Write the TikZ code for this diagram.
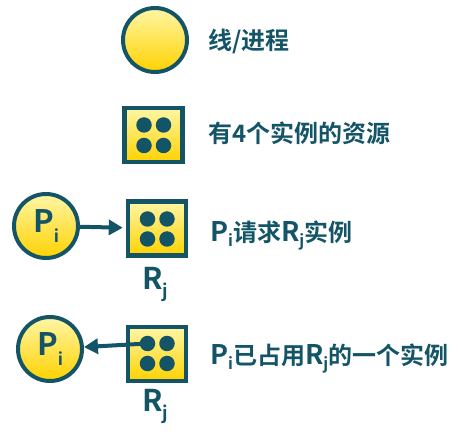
\documentclass[tikz,border=0pt]{standalone}
\usepackage{fontspec}
\setmainfont{Noto Sans CJK SC}[BoldFont={Noto Sans CJK SC Bold}]
\usetikzlibrary{arrows.meta}
\definecolor{tealc}{HTML}{135567}
\definecolor{ytop}{HTML}{FFF6A6}
\definecolor{ybot}{HTML}{FFD200}
\newcommand{\bigL}[1]{{\fontsize{27}{27}\selectfont #1}}
\newcommand{\subtx}[3]{\raisebox{#1}{\fontsize{#2}{#2}\selectfont #3}}
\tikzset{
  proc/.style={circle, draw=tealc, line width=4pt, top color=ytop, bottom color=ybot, minimum size=64pt, inner sep=0pt, text=tealc, font=\bfseries\fontsize{31}{31}\selectfont},
  res/.style={rectangle, draw=tealc, line width=4.5pt, top color=ytop, bottom color=ybot, minimum width=58pt, minimum height=54pt, inner sep=0pt},
  rdot/.style={circle, fill=tealc, minimum size=15.5pt, inner sep=0pt},
  lbl/.style={anchor=base west, text=tealc, inner sep=0pt, font=\bfseries\fontsize{24}{24}\selectfont},
  rlbl/.style={anchor=base, text=tealc, inner sep=0pt, font=\bfseries\fontsize{30}{30}\selectfont},
  arr/.style={draw=tealc, line width=4pt, -{Triangle[length=14pt,width=15pt]}},
}
\begin{document}
\begin{tikzpicture}[x=1pt,y=-1pt]
\useasboundingbox (0,0) rectangle (459,444);
% row 1
\node[proc] (P1) at (155,40) {};
\node[lbl] (T1) at (208,50) {线/进程};
% row 2
\node[res] (R2) at (153.5,135) {};
\node[rdot] (d2a) at (144,125) {};
\node[rdot] (d2b) at (163.5,125) {};
\node[rdot] (d2c) at (144,145.5) {};
\node[rdot] (d2d) at (163.5,145.5) {};
\node[lbl] (T2) at (208,143) {有4个实例的资源};
% row 3
\node[proc] (P3) at (46,226) {P\subtx{-0.3em}{17}{i}};
\node[res] (R3) at (157,228.5) {};
\node[rdot] (d3a) at (147.5,219) {};
\node[rdot] (d3b) at (167,219) {};
\node[rdot] (d3c) at (147.5,239) {};
\node[rdot] (d3d) at (167,239) {};
\node[rlbl] (L3) at (155,290) {R\subtx{-0.25em}{18}{j}};
\draw[arr, shorten >=3pt] (P3) -- (R3);
\node[lbl] (T3) at (210,242) {\bigL{P}\subtx{-0.2em}{16}{i}请求\bigL{R}\subtx{-0.2em}{16}{j}实例};
% row 4
\node[proc] (P4) at (50,349) {P\subtx{-0.3em}{17}{i}};
\node[res] (R4) at (157,354) {};
\node[rdot] (d4a) at (147.5,343.5) {};
\node[rdot] (d4b) at (167,343.5) {};
\node[rdot] (d4c) at (147.5,363.5) {};
\node[rdot] (d4d) at (167,363.5) {};
\node[rlbl] (L4) at (155,412) {R\subtx{-0.25em}{18}{j}};
\draw[arr] (d4a.center) -- (P4);
\node[lbl] (T4) at (210,365) {\bigL{P}\subtx{-0.2em}{16}{i}已占用\bigL{R}\subtx{-0.2em}{16}{j}的一个实例};
\end{tikzpicture}
\end{document}
